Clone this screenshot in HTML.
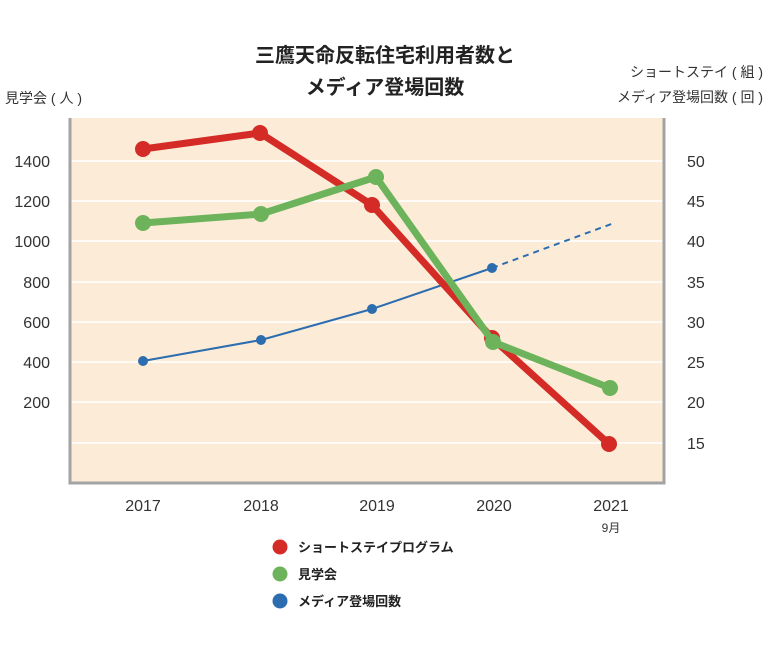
<!DOCTYPE html>
<html><head><meta charset="utf-8"><style>
body{margin:0;background:#fff;}
svg text{font-family:"Liberation Sans","Noto Sans CJK JP",sans-serif;}
</style></head><body>
<svg width="770" height="646" viewBox="0 0 770 646" xmlns="http://www.w3.org/2000/svg">
<rect x="70" y="118" width="594" height="365" fill="#fcecd7"/>
<g stroke="#fff" stroke-width="1.5">
<line x1="71" y1="161" x2="663" y2="161"/><line x1="71" y1="201" x2="663" y2="201"/>
<line x1="71" y1="241" x2="663" y2="241"/><line x1="71" y1="282" x2="663" y2="282"/>
<line x1="71" y1="322" x2="663" y2="322"/><line x1="71" y1="362" x2="663" y2="362"/>
<line x1="71" y1="402" x2="663" y2="402"/><line x1="71" y1="443" x2="663" y2="443"/>
</g>
<g stroke="#a3a3a3" stroke-width="3" fill="none">
<polyline points="70,118 70,483 664,483 664,118"/>
</g>
<text x="385" y="62" text-anchor="middle" font-size="20" font-weight="bold" fill="#222">三鷹天命反転住宅利用者数と</text>
<text x="385" y="94" text-anchor="middle" font-size="20" font-weight="bold" fill="#222">メディア登場回数</text>
<text x="5" y="103" font-size="14" fill="#333">見学会 ( 人 )</text>
<text x="763" y="77" text-anchor="end" font-size="14" fill="#333">ショートステイ ( 組 )</text>
<text x="763" y="102" text-anchor="end" font-size="14" fill="#333">メディア登場回数 ( 回 )</text>
<g font-size="16" fill="#333" text-anchor="end">
<text x="50" y="167">1400</text><text x="50" y="207">1200</text><text x="50" y="247">1000</text>
<text x="50" y="288">800</text><text x="50" y="328">600</text><text x="50" y="368">400</text><text x="50" y="408">200</text>
</g>
<g font-size="16" fill="#333">
<text x="687" y="167">50</text><text x="687" y="207">45</text><text x="687" y="247">40</text>
<text x="687" y="288">35</text><text x="687" y="328">30</text><text x="687" y="368">25</text>
<text x="687" y="408">20</text><text x="687" y="449">15</text>
</g>
<g font-size="16" fill="#333" text-anchor="middle">
<text x="143" y="511">2017</text><text x="261" y="511">2018</text><text x="377" y="511">2019</text>
<text x="494" y="511">2020</text><text x="611" y="511">2021</text>
</g>
<text x="611" y="532" text-anchor="middle" font-size="12" fill="#333">9月</text>
<polyline points="143,361 261,340 372,309 492,268" fill="none" stroke="#2c6db0" stroke-width="2"/>
<line x1="492" y1="268" x2="614" y2="223" stroke="#2c6db0" stroke-width="2" stroke-dasharray="6,5"/>
<g fill="#2c6db0"><circle cx="143" cy="361" r="5"/><circle cx="261" cy="340" r="5"/><circle cx="372" cy="309" r="5"/><circle cx="492" cy="268" r="5"/></g>
<polyline points="143,149 260,133 372,205 492,338 609,444" fill="none" stroke="#d42b27" stroke-width="7" stroke-linejoin="round"/>
<g fill="#d42b27"><circle cx="143" cy="149" r="8"/><circle cx="260" cy="133" r="8"/><circle cx="372" cy="205" r="8"/><circle cx="492" cy="338" r="8"/><circle cx="609" cy="444" r="8"/></g>
<polyline points="143,223 261,214 376,177 493,342 610,388" fill="none" stroke="#6db35b" stroke-width="7" stroke-linejoin="round"/>
<g fill="#6db35b"><circle cx="143" cy="223" r="8"/><circle cx="261" cy="214" r="8"/><circle cx="376" cy="177" r="8"/><circle cx="493" cy="342" r="8"/><circle cx="610" cy="388" r="8"/></g>
<circle cx="280" cy="547" r="7.5" fill="#d42b27"/>
<circle cx="280" cy="574" r="7.5" fill="#6db35b"/>
<circle cx="280" cy="601" r="7.5" fill="#2c6db0"/>
<g font-size="13" font-weight="bold" fill="#222">
<text x="298" y="552">ショートステイプログラム</text>
<text x="298" y="579">見学会</text>
<text x="298" y="606">メディア登場回数</text>
</g>
</svg>
</body></html>
